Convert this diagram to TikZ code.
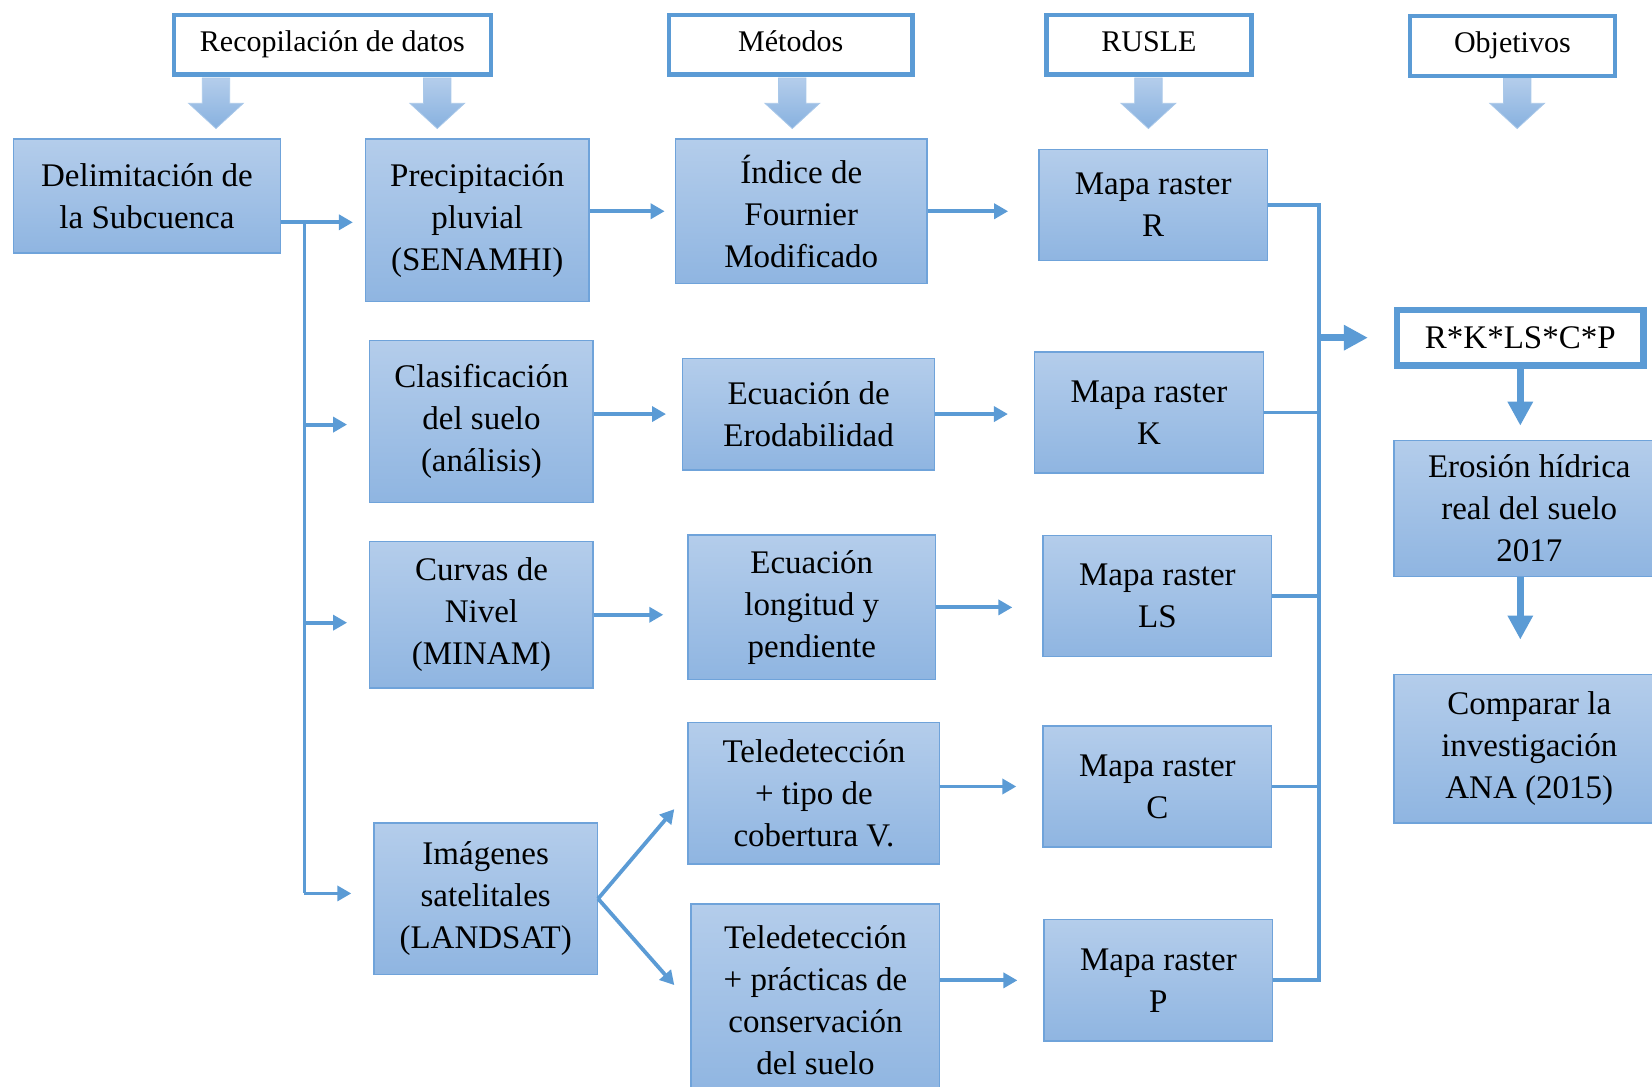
\documentclass[tikz,border=0pt]{standalone}
\usepackage{fontspec}
\setmainfont{Liberation Serif}
\usetikzlibrary{arrows.meta,positioning,calc}

\definecolor{lineblue}{HTML}{5B9BD5}
\definecolor{boxtop}{HTML}{B4CDEB}
\definecolor{boxbot}{HTML}{8FB5E1}
\definecolor{boxedge}{HTML}{6FA3DA}

\tikzset{
  header/.style={draw=lineblue, line width=2.2pt, fill=white, inner sep=0pt,
    minimum height=29.9pt, text height=10.5pt, text depth=3.5pt,
    font=\fontsize{15}{19}\selectfont},
  box/.style={draw=boxedge, line width=0.7pt, top color=boxtop, bottom color=boxbot,
    align=center, inner sep=0pt, font=\fontsize{16.5}{21}\selectfont},
  line/.style={draw=lineblue, line width=1.9pt},
  flow/.style={line, -{Triangle[length=7pt,width=7.5pt]}, shorten >=6pt},
  bigflow/.style={draw=lineblue, line width=3.5pt, -{Triangle[length=12pt,width=12pt]}},
  blockarrow/.style={draw=boxedge!60, line width=0.4pt, top color=boxtop, bottom color=boxbot!85!lineblue}
}

\begin{document}
\begin{tikzpicture}[x=0.5268pt, y=-0.5268pt]
  \clip (0,0) rectangle (1568,1031);

  % block arrows under the headers
  \foreach \x in {205,415,752,1090,1440}
    \draw[blockarrow] (\x-13,74) -- (\x+13,74) -- (\x+13,98) -- (\x+26,98)
      -- (\x,122) -- (\x-26,98) -- (\x-13,98) -- cycle;

  % headers
  \node[header, minimum width=158.5pt] (h_rec) at (315.5,42.5) {Recopilación de datos};
  \node[header, minimum width=121.6pt] (h_met) at (750.5,42.5) {Métodos};
  \node[header, minimum width=102.6pt] (h_rus) at (1090.5,42.5) {RUSLE};
  \node[header, minimum width=102.6pt] (h_obj) at (1435.5,43.5) {Objetivos};

  % data
  \node[box, minimum width=133.3pt, minimum height=56.9pt] (b_del) at (139.5,186)  {Delimitación de\\la Subcuenca};
  \node[box, minimum width=111.7pt, minimum height=81.1pt] (b_pre) at (453,209)    {Precipitación\\pluvial\\(SENAMHI)};
  \node[box, minimum width=111.7pt, minimum height=81.1pt] (b_cla) at (457,400)    {Clasificación\\del suelo\\(análisis)};
  \node[box, minimum width=111.7pt, minimum height=73.2pt] (b_cur) at (457,583.5)  {Curvas de\\Nivel\\(MINAM)};
  \node[box, minimum width=111.7pt, minimum height=75.9pt] (b_ima) at (461,853)    {Imágenes\\satelitales\\(LANDSAT)};

  % methods
  \node[box, minimum width=125.9pt, minimum height=72.2pt] (b_fou)  at (760.5,200.5) {Índice de\\Fournier\\Modificado};
  \node[box, minimum width=125.9pt, minimum height=55.8pt] (b_ero)  at (767.5,393)   {Ecuación de\\Erodabilidad};
  \node[box, minimum width=123.8pt, minimum height=72.2pt] (b_lon)  at (770.5,576.5) {Ecuación\\longitud y\\pendiente};
  \node[box, minimum width=125.9pt, minimum height=70.6pt] (b_tel1) at (772.5,753)   {Teledetección\\+ tipo de\\cobertura V.};
  \node[box, minimum width=124.3pt, minimum height=95.9pt] (b_tel2) at (774,949)     {Teledetección\\+ prácticas de\\conservación\\del suelo};

  % RUSLE maps
  \node[box, minimum width=114.3pt, minimum height=55.3pt] (m_R)  at (1094.5,194.5) {Mapa raster\\R};
  \node[box, minimum width=114.3pt, minimum height=60.6pt] (m_K)  at (1090.5,391.5) {Mapa raster\\K};
  \node[box, minimum width=114.3pt, minimum height=60.6pt] (m_LS) at (1098.5,565.5) {Mapa raster\\LS};
  \node[box, minimum width=114.3pt, minimum height=60.6pt] (m_C)  at (1098.5,746.5) {Mapa raster\\C};
  \node[box, minimum width=114.3pt, minimum height=60.6pt] (m_P)  at (1099.5,930.5) {Mapa raster\\P};

  % objectives
  \node[draw=lineblue, line width=3.2pt, fill=white, inner sep=0pt, minimum width=123.2pt,
    minimum height=27.9pt, font=\fontsize{16.5}{21}\selectfont] (b_form) at (1443,320.5) {R*K*LS*C*P};
  \node[box, minimum width=135.4pt, minimum height=68pt]   (o_ero) at (1451.5,482.5) {Erosión hídrica\\real del suelo\\2017};
  \node[box, minimum width=135.4pt, minimum height=74.3pt] (o_com) at (1451.5,710.5) {Comparar la\\investigación\\ANA (2015)};

  \coordinate (t_0) at (289,211);
  \coordinate (t_1) at (289,403);
  \coordinate (t_2) at (289,591);
  \coordinate (t_3) at (289,848);
  \coordinate (bus) at (1252,190);
  \coordinate (a_1) at (640,768);
  \coordinate (a_2) at (640,935);

  % trunk on the left
  \draw[flow] (b_del.east |- t_0) -- (b_pre.west |- t_0);
  \draw[line] (t_0) -- (t_3);
  \draw[flow, shorten >=11pt] (t_1) -- (t_1 -| b_cla.west);
  \draw[flow, shorten >=11pt] (t_2) -- (t_2 -| b_cur.west);
  \draw[flow, shorten >=11pt] (t_3) -- (t_3 -| b_ima.west);

  \draw[flow, shorten >=5pt]  (b_pre.east |- b_fou.west) -- (b_fou.west);
  \draw[flow, shorten >=8pt]  (b_cla.east |- b_ero.west) -- (b_ero.west);
  \draw[flow, shorten >=12pt] (b_cur.east) -- (b_cur.east -| b_lon.west);
  \draw[flow, shorten >=0pt]  (b_ima.east) -- (a_1);
  \draw[flow, shorten >=0pt]  (b_ima.east) -- (a_2);

  \draw[flow, shorten >=15pt] (b_fou.east) -- (b_fou.east -| m_R.west);
  \draw[flow, shorten >=13pt] (b_ero.east) -- (b_ero.east -| m_K.west);
  \draw[flow, shorten >=15pt] (b_lon.east) -- (b_lon.east -| m_LS.west);
  \draw[flow, shorten >=13pt] (b_tel1.east |- m_C.west) -- (m_C.west);
  \draw[flow, shorten >=13pt] (b_tel2.east |- m_P.west) -- (m_P.west);

  % collector of the maps
  \draw[line] (m_R.east) -- (bus |- m_R.east) -- (bus |- m_P.east) -- (m_P.east);
  \foreach \m in {m_K,m_LS,m_C}
    \draw[line] (\m.east) -- (bus |- \m.east);

  \draw[bigflow, shorten >=13pt] (bus |- b_form.west) -- (b_form.west);
  \draw[bigflow, shorten >=7pt]  (b_form.south) -- (b_form.south |- o_ero.north);
  \draw[bigflow, shorten >=17pt] (o_ero.south -| b_form.south) -- (b_form.south |- o_com.north);
\end{tikzpicture}
\end{document}
